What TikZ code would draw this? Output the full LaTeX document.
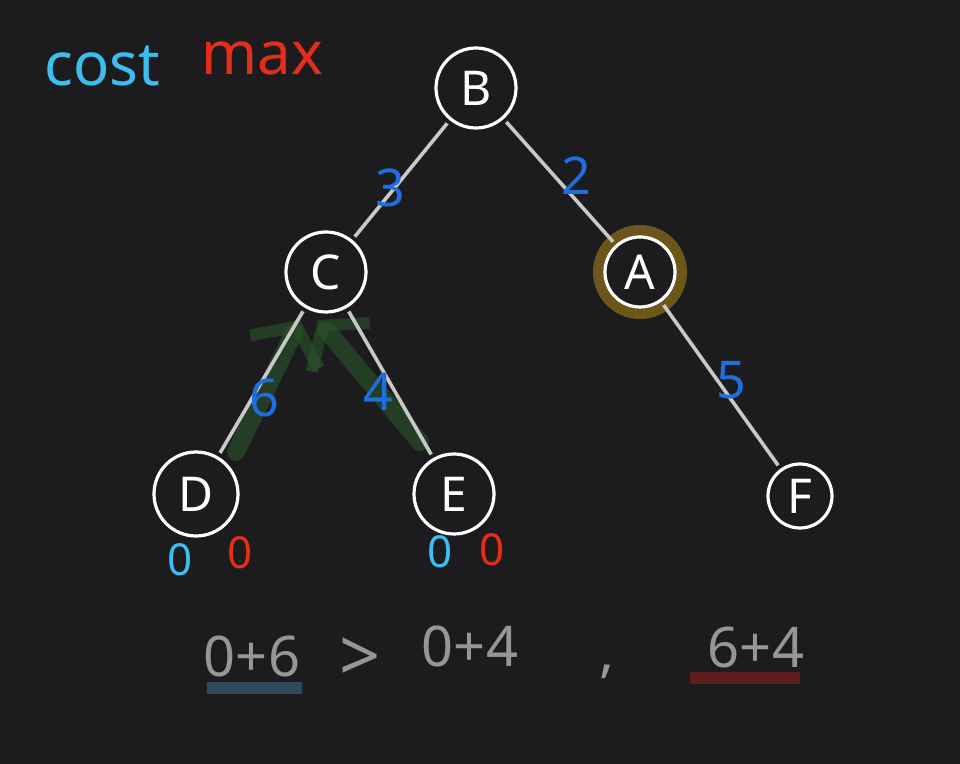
\documentclass[tikz,border=0pt]{standalone}
\usepackage{fontspec}
\setmainfont{Noto Sans}
\usetikzlibrary{arrows.meta}
\definecolor{bg}{RGB}{28,28,30}
\definecolor{edgegray}{RGB}{200,200,200}
\definecolor{lblue}{RGB}{30,110,225}
\definecolor{cyanc}{RGB}{60,190,240}
\definecolor{redc}{RGB}{230,45,25}
\definecolor{txtgray}{RGB}{150,150,150}
\definecolor{halo}{RGB}{110,85,25}
\definecolor{greenc}{RGB}{40,85,40}
\definecolor{ulblue}{RGB}{45,75,90}
\definecolor{ulred}{RGB}{95,30,30}
\tikzset{
  vtx/.style={circle, draw=white, fill=bg, line width=1.6pt, minimum size=40pt, inner sep=0pt, text=white, font=\fontsize{24}{28}\selectfont},
  edge/.style={draw=edgegray, line width=1.8pt, shorten <=2pt, shorten >=2pt},
  wlabel/.style={text=lblue, font=\fontsize{26}{30}\selectfont},
  mathtxt/.style={text=txtgray, font=\fontsize{28}{32}\selectfont, inner sep=0pt},
  zerolbl/.style={font=\fontsize{22}{26}\selectfont},
  greenarrow/.style={draw=greenc, opacity=0.6, line width=9pt, line cap=round, -{Straight Barb[length=14pt, width=38pt, line width=6pt]}},
}
\begin{document}
\begin{tikzpicture}[x=0.5pt, y=-0.5pt]
\fill[bg] (0,0) rectangle (960,764);
\useasboundingbox (0,0) rectangle (960,764);

% green annotation arrows
\coordinate (g1s) at (236,452);
\coordinate (g1e) at (300,320);
\coordinate (g2s) at (420,442);
\coordinate (g2e) at (318,320);
\draw[greenarrow] (g1s) -- (g1e);
\draw[greenarrow] (g2s) -- (g2e);

% halo for A
\fill[halo] (640,272) circle (47);

% vertices
\node[vtx] (B) at (476,88) {B};
\node[vtx] (C) at (326,272) {C};
\node[vtx, minimum size=35pt] (A) at (640,272) {A};
\node[vtx, minimum size=42pt] (D) at (196,494) {D};
\node[vtx] (E) at (454,494) {E};
\node[vtx, minimum size=32pt] (F) at (800,496) {F};

% edges
\draw[edge] (B) -- (C);
\draw[edge] (B) -- (A);
\draw[edge] (C) -- (D);
\draw[edge] (C) -- (E);
\draw[edge] (A) -- (F);

% edge weights
\node[wlabel] (w3) at (390,188) {3};
\node[wlabel] (w2) at (576,176) {2};
\node[wlabel] (w6) at (264,398) {6};
\node[wlabel] (w4) at (378,392) {4};
\node[wlabel] (w5) at (731,380) {5};

% legend
\node[text=cyanc, font=\fontsize{30}{34}\selectfont] (cost) at (102,66) {cost};
\node[text=redc, font=\fontsize{30}{34}\selectfont] (max) at (262,58) {max};

% values under leaves
\node[zerolbl, text=cyanc] (dc) at (180,560) {0};
\node[zerolbl, text=redc] (dr) at (240,553) {0};
\node[zerolbl, text=cyanc] (ec) at (440,552) {0};
\node[zerolbl, text=redc] (er) at (492,550) {0};

% bottom comparison
\fill[ulblue] (207,682) rectangle (302,694);
\fill[ulred] (690,672) rectangle (800,684);
\node[mathtxt] (t1) at (252,656) {0+6};
\node[mathtxt, font=\fontsize{36}{40}\selectfont] (t2) at (360,660) {>};
\node[mathtxt] (t3) at (470,646) {0+4};
\node[mathtxt] (t4) at (607,672) {,};
\node[mathtxt] (t5) at (756,648) {6+4};
\end{tikzpicture}
\end{document}
